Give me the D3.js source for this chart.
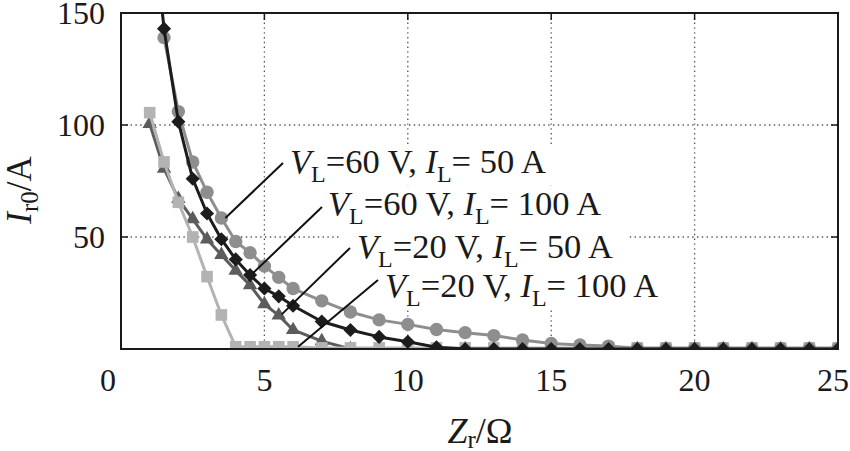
<!DOCTYPE html>
<html>
<head>
<meta charset="utf-8">
<script src="https://cdn.jsdelivr.net/npm/d3@7/dist/d3.min.js"></script>
<style>
  html, body { margin: 0; padding: 0; background: #fff; }
  svg { display: block; }
  text { font-family: "Liberation Serif", "Times New Roman", serif; fill: #1a1a1a; white-space: pre; }
</style>
</head>
<body>
<svg id="chart" width="850" height="451"></svg>
<script>
// ---------- data ----------
const zValues = [1, 1.5, 2, 2.5, 3, 3.5, 4, 4.5, 5, 5.5, 6,
  7, 8, 9, 10, 11, 12, 13, 14, 15, 16, 17, 18, 19, 20, 21, 22, 23, 24, 25];

// V_L = 60 V, I_L = 50 A (circles)
const v60i50 = [null, 139, 106, 83.5, 70, 58.5, 48, 43, 37, 32, 27,
  21.5, 16.5, 13, 11, 8.7, 7.3, 6, 4, 2.5, 1.8, 1.3, 0.3, 0.3, 0.3, 0.3, 0.3, 0.3, 0.3, 0.3];
// V_L = 60 V, I_L = 100 A (diamonds)
const v60i100 = [205, 143, 101.5, 76, 60.5, 49, 40, 33, 27, 23.5, 19.3,
  12.3, 8.5, 5.4, 3.2, 0.8, 0, 0, 0, 0, 0, 0, 0, 0, 0, 0, 0, 0, 0, 0];
// V_L = 20 V, I_L = 50 A (triangles)
const v20i50 = [100.5, 80.5, 67, 58, 49, 42, 35, 28.5, 20, 15, 8.5,
  3.5, 0, 0, 0, 0, 0, 0, 0, 0, 0, 0, 0, 0, 0, 0, 0, 0, 0, 0];
// V_L = 20 V, I_L = 100 A (squares)
const v20i100 = [105.5, 83.5, 65.5, 50, 32.3, 15.2, 1, 1, 1, 1, 1,
  0.5, 0.5, 0.5, 0.5, 0.5, 0.5, 0.5, 0.5, 0.5, 0.5, 0.5, 0.5, 0.5, 0.5, 0.5, 0.5, 0.5, 0.5, 0.5];

const seriesVL = [60, 60, 20, 20];
const seriesIL = [50, 100, 50, 100];

const xTicks = [0, 5, 10, 15, 20, 25];
const yTicks = [50, 100, 150];
const xGridVals = [5, 10, 15, 20];
const yGridVals = [50, 100];

// ---------- layout ----------
const svg = d3.select("#chart");
const L = 121, R = 838, T = 13, B = 349;
const x = d3.scaleLinear().domain([0, 25]).range([L, R]);
const y = d3.scaleLinear().domain([0, 150]).range([B, T]);

svg.append("defs").append("clipPath").attr("id", "plotClip")
  .append("rect").attr("x", L).attr("y", T).attr("width", R - L).attr("height", B - T);

// grid
const grid = svg.append("g");
grid.selectAll(".vg").data(xGridVals).join("line")
  .attr("x1", d => x(d)).attr("x2", d => x(d)).attr("y1", T).attr("y2", B)
  .attr("stroke", "#555").attr("stroke-width", 1.3).attr("stroke-dasharray", "1.4,3.4");
grid.selectAll(".hg").data(yGridVals).join("line")
  .attr("x1", L).attr("x2", R).attr("y1", d => y(d)).attr("y2", d => y(d))
  .attr("stroke", "#555").attr("stroke-width", 1.3).attr("stroke-dasharray", "1.4,3.4");

// inner ticks
const ticksG = svg.append("g").attr("stroke", "#1a1a1a").attr("stroke-width", 1.5);
xGridVals.forEach(v => {
  ticksG.append("line").attr("x1", x(v)).attr("x2", x(v)).attr("y1", B).attr("y2", B - 7);
  ticksG.append("line").attr("x1", x(v)).attr("x2", x(v)).attr("y1", T).attr("y2", T + 7);
});
yGridVals.forEach(v => {
  ticksG.append("line").attr("x1", L).attr("x2", L + 7).attr("y1", y(v)).attr("y2", y(v));
  ticksG.append("line").attr("x1", R).attr("x2", R - 7).attr("y1", y(v)).attr("y2", y(v));
});

// annotation label layout
const labelPos = [
  { tx: 290, ty: 173, lx: 283, ly: 163 },
  { tx: 328, ty: 215, lx: 322, ly: 207 },
  { tx: 357, ty: 258, lx: 350, ly: 248 },
  { tx: 385, ty: 297, lx: 378, ly: 280 }
];
const leaderTarget = [
  { s: 0, z: 3.5, dx: 4, dy: 0 },
  { s: 1, z: 4.5, dx: 3, dy: -2 },
  { s: 2, z: 5.5, dx: 3, dy: -1 },
  { s: 3, z: 6, dx: 5, dy: 0 }
];

const boxG = svg.append("g");
const dataG = svg.append("g").attr("clip-path", "url(#plotClip)");
const frameG = svg.append("g");
const leaderG = svg.append("g");
const labelG = svg.append("g");

// series
const allSeries = [
  { vals: v20i50, color: "#5c5c5c", shape: "triangle" },
  { vals: v20i100, color: "#b3b3b3", shape: "square" },
  { vals: v60i50, color: "#8e8e8e", shape: "circle" },
  { vals: v60i100, color: "#1c1c1c", shape: "diamond" }
];
const seriesByIndex = [v60i50, v60i100, v20i50, v20i100];

const line = d3.line()
  .defined(d => d[1] !== null)
  .x(d => x(d[0])).y(d => y(d[1]));

allSeries.forEach(s => {
  const pts = zValues.map((z, i) => [z, s.vals[i]]);
  dataG.append("path").datum(pts)
    .attr("d", line).attr("fill", "none")
    .attr("stroke", s.color).attr("stroke-width", 3).attr("stroke-linejoin", "round");
  let sym, rot = 0;
  if (s.shape === "circle") sym = d3.symbol().type(d3.symbolCircle).size(140);
  else if (s.shape === "square") sym = d3.symbol().type(d3.symbolSquare).size(135);
  else if (s.shape === "triangle") sym = d3.symbol().type(d3.symbolTriangle).size(90);
  else { sym = d3.symbol().type(d3.symbolSquare).size(100); rot = 45; }
  dataG.selectAll(null).data(pts.filter(d => d[1] !== null)).join("path")
    .attr("d", sym)
    .attr("transform", d => `translate(${x(d[0])},${y(d[1])}) rotate(${rot})`)
    .attr("fill", s.color);
});

// frame
frameG.append("rect").attr("x", L).attr("y", T).attr("width", R - L).attr("height", B - T)
  .attr("fill", "none").attr("stroke", "#1a1a1a").attr("stroke-width", 2);

// tick labels
svg.append("g").selectAll("text").data(yTicks).join("text")
  .attr("x", 105).attr("y", d => y(d) + 11)
  .attr("text-anchor", "end").attr("font-size", 32).text(d => d);
svg.append("g").selectAll("text").data(xTicks).join("text")
  .attr("x", d => d === 0 ? x(d) - 13 : (d === 25 ? x(d) - 5 : x(d)))
  .attr("y", 391)
  .attr("text-anchor", "middle").attr("font-size", 32).text(d => d);

// axis titles
const yt = svg.append("text").attr("transform", "translate(31,190) rotate(-90)")
  .attr("text-anchor", "middle").attr("font-size", 35);
yt.append("tspan").attr("font-style", "italic").text("I");
yt.append("tspan").attr("font-size", 25).attr("dy", 7).text("r0");
yt.append("tspan").attr("dy", -7).text("/A");

const xt = svg.append("text").attr("x", 480).attr("y", 443)
  .attr("text-anchor", "middle").attr("font-size", 36);
xt.append("tspan").attr("font-style", "italic").text("Z");
xt.append("tspan").attr("font-size", 25).attr("dy", 5).text("r");
xt.append("tspan").attr("dy", -5).text("/Ω");

// annotation labels
labelPos.forEach((p, i) => {
  const t = labelG.append("text").attr("x", p.tx).attr("y", p.ty).attr("font-size", 34.5);
  t.append("tspan").attr("font-style", "italic").text("V");
  t.append("tspan").attr("font-size", 24).attr("dy", 9).text("L");
  t.append("tspan").attr("dy", -9).text(`=${seriesVL[i]} V, `);
  t.append("tspan").attr("font-style", "italic").text("I");
  t.append("tspan").attr("font-size", 24).attr("dy", 9).text("L");
  t.append("tspan").attr("dy", -9).text(`= ${seriesIL[i]} A`);
  const bb = t.node().getBBox();
  boxG.append("rect").attr("x", bb.x - 16).attr("y", bb.y + 2)
    .attr("width", bb.width + 32).attr("height", bb.height - 4).attr("fill", "#fff");
  const lt = leaderTarget[i];
  const vals = seriesByIndex[lt.s];
  const zi = zValues.indexOf(lt.z);
  leaderG.append("line")
    .attr("x1", p.lx).attr("y1", p.ly)
    .attr("x2", x(lt.z) + lt.dx).attr("y2", y(vals[zi]) + lt.dy)
    .attr("stroke", "#111").attr("stroke-width", 2);
});
</script>
</body>
</html>
